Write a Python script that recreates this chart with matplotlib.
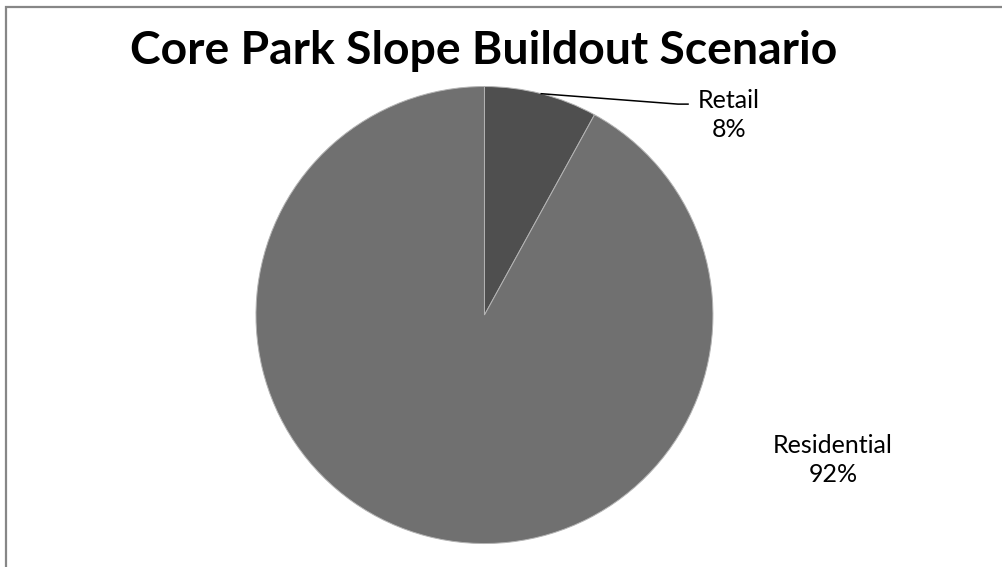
import numpy as np
import matplotlib.pyplot as plt
from matplotlib.patches import Rectangle

# Buildout shares
labels = ['Retail', 'Residential']
shares = [8, 92]
colors = ['#4f4f4f', '#707070']

plt.rcParams['font.family'] = ['Lato', 'DejaVu Sans']

fig = plt.figure(figsize=(10.03, 5.67), dpi=100)

# gray frame around the chart area (right and bottom fall outside)
fig.patches.append(Rectangle((6 / 1003, -0.1), 1.2, 1.1 - 7 / 567,
                             transform=fig.transFigure, fill=False,
                             edgecolor='#878787', linewidth=1.6))

ax = fig.add_axes([0.2552, 0.0414, 0.4556, 0.806])
wedges, _ = ax.pie(shares, colors=colors, startangle=90, counterclock=False,
                   radius=1.0, wedgeprops=dict(edgecolor='#b4b4b4', linewidth=0.7))
ax.set_xlim(-1, 1)
ax.set_ylim(-1, 1)
ax.set_aspect('auto')
ax.axis('off')

# Retail label with leader line from the middle of its wedge
mid = np.deg2rad(90 - shares[0] / sum(shares) * 360 / 2)
ax.plot([np.cos(mid), 0.847, 0.891], [np.sin(mid), 0.923, 0.923],
        color='black', linewidth=1.1, clip_on=False)
ax.text(1.07, 0.875, f'{labels[0]}\n{shares[0]}%', ha='center', va='center',
        fontsize=18, linespacing=1.35)

ax.text(1.525, -0.635, f'{labels[1]}\n{shares[1]}%', ha='center', va='center',
        fontsize=18, linespacing=1.35)

fig.text(0.482, 1 - 51 / 567, 'Core Park Slope Buildout Scenario',
         ha='center', va='center', fontsize=33.3, fontweight='bold')

fig.savefig('out.png', dpi=100)
